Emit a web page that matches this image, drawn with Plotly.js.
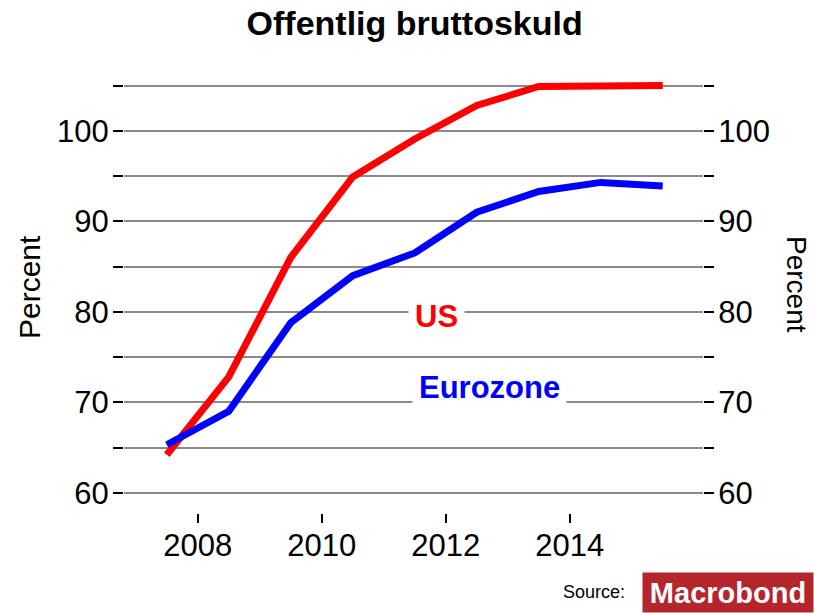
<!DOCTYPE html>
<html>
<head>
<meta charset="utf-8">
<script src="https://cdn.plot.ly/plotly-3.0.1.min.js"></script>
<style>html,body{margin:0;padding:0;background:#fff;}#chart{width:814px;height:613px;}</style>
</head>
<body>
<div id="chart"></div>
<script>
// Data (annual, plotted at mid-year)
const years = [2007.5, 2008.5, 2009.5, 2010.5, 2011.5, 2012.5, 2013.5, 2014.5, 2015.5];
const usDebt = [64.2, 72.8, 86.0, 94.9, 99.1, 102.8, 104.9, 104.9, 105.0];
const euroDebt = [65.3, 69.0, 78.8, 84.0, 86.5, 91.0, 93.3, 94.3, 93.9];
const yTickVals = [60, 65, 70, 75, 80, 85, 90, 95, 100, 105];
const yTickText = ['60', '', '70', '', '80', '', '90', '', '100', ''];
const xTickVals = [2008, 2010, 2012, 2014];
const xTickText = ['2008', '2010', '2012', '2014'];

const FONT = 'Liberation Sans, Arial, Helvetica, sans-serif';

const traces = [
  {x: years, y: usDebt, type: 'scatter', mode: 'lines', name: 'US',
   line: {color: '#ff0000', width: 7}, hoverinfo: 'x+y'},
  {x: years, y: euroDebt, type: 'scatter', mode: 'lines', name: 'Eurozone',
   line: {color: '#0000ff', width: 7}, hoverinfo: 'x+y'},
  {x: years, y: usDebt, type: 'scatter', mode: 'lines', yaxis: 'y2',
   line: {width: 0}, opacity: 0, showlegend: false, hoverinfo: 'skip'}
];

const yRange = [57.76, 106.06];
const yCommon = {
  range: yRange, tickmode: 'array', tickvals: yTickVals, ticktext: yTickText,
  ticks: 'outside', ticklen: 10, tickwidth: 2, tickcolor: '#000',
  showline: false, zeroline: false, fixedrange: true, ticklabelstandoff: -2,
  tickfont: {family: FONT, size: 31, color: '#000'}
};

const layout = {
  width: 814, height: 613,
  margin: {l: 124, r: 111, t: 76, b: 100, pad: 0},
  paper_bgcolor: '#fff', plot_bgcolor: '#fff',
  showlegend: false,
  font: {family: FONT, color: '#000'},
  title: {
    text: '<b>Offentlig bruttoskuld</b>',
    font: {family: FONT, size: 34, color: '#000'},
    x: 0.502, xanchor: 'center', xref: 'paper',
    y: 0.963, yanchor: 'middle', yref: 'container'
  },
  xaxis: {
    range: [2006.81, 2016.15], tickmode: 'array', tickvals: xTickVals, ticktext: xTickText,
    ticks: 'outside', ticklen: 9, tickwidth: 2, tickcolor: '#000', ticklabelstandoff: -4,
    showgrid: false, showline: false, zeroline: false, fixedrange: true,
    tickfont: {family: FONT, size: 31, color: '#000'}
  },
  yaxis: Object.assign({}, yCommon, {
    showgrid: true, gridcolor: '#8a8a8a', gridwidth: 2
  }),
  yaxis2: Object.assign({}, yCommon, {
    overlaying: 'y', side: 'right', showgrid: false
  }),
  annotations: [
    {x: 2011.85, y: 79.5, xref: 'x', yref: 'y', text: '<b>US</b>', showarrow: false,
     font: {family: FONT, size: 31, color: '#ff0000'}, bgcolor: '#fff', borderpad: 6,
     xanchor: 'center', yanchor: 'middle'},
    {x: 2012.71, y: 71.68, xref: 'x', yref: 'y', text: '<b>Eurozone</b>', showarrow: false,
     font: {family: FONT, size: 31, color: '#0000ff'}, bgcolor: '#fff', borderpad: 6,
     xanchor: 'center', yanchor: 'middle'},
    {x: -0.1623, y: 0.5172, xref: 'paper', yref: 'paper', text: 'Percent', showarrow: false,
     textangle: -90, font: {family: FONT, size: 30, color: '#000'},
     xanchor: 'center', yanchor: 'middle'},
    {x: 1.1623, y: 0.5217, xref: 'paper', yref: 'paper', text: 'Percent', showarrow: false,
     textangle: 90, font: {family: FONT, size: 28, color: '#000'},
     xanchor: 'center', yanchor: 'middle'},
    {x: 0.812, y: -0.1808, xref: 'paper', yref: 'paper', text: 'Source:', showarrow: false,
     font: {family: FONT, size: 18, color: '#000'}, xanchor: 'center', yanchor: 'middle'},
    {x: 1.1917, y: -0.2288, xref: 'paper', yref: 'paper', text: '<b>Macrobond</b>', showarrow: false,
     font: {family: FONT, size: 29, color: '#fff'},
     bgcolor: '#b5252c', borderpad: 0, width: 170, height: 39,
     xanchor: 'right', yanchor: 'bottom', valign: 'middle', align: 'center'}
  ]
};

Plotly.newPlot('chart', traces, layout, {displayModeBar: false, staticPlot: true});
</script>
</body>
</html>
